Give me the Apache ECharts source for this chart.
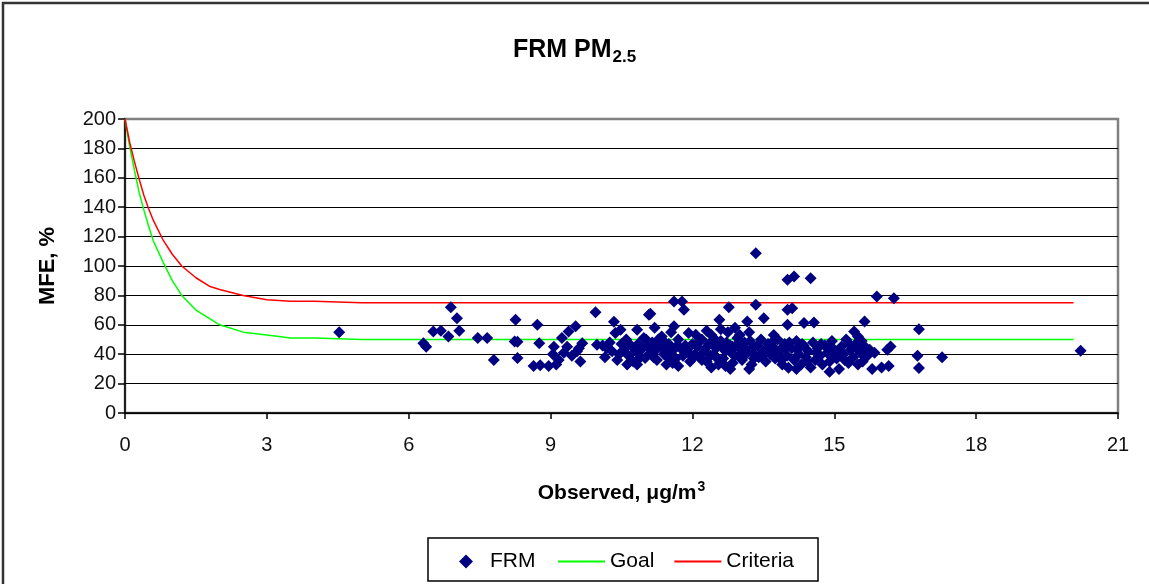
<!DOCTYPE html>
<html>
<head>
<meta charset="utf-8">
<script src="https://cdn.jsdelivr.net/npm/echarts@6/dist/echarts.min.js"></script>
<style>
html,body{margin:0;padding:0;background:#fff;}
#chart{width:1149px;height:584px;}
</style>
</head>
<body>
<div id="chart"></div>
<script>
// ---- Data ----
const xTicks = [0, 3, 6, 9, 12, 15, 18, 21];
const yTicks = [0, 20, 40, 60, 80, 100, 120, 140, 160, 180, 200];

// FRM observations: [Observed (ug/m3), MFE (%)]
const frmPoints = [
  [4.53,55],[6.31,47.5],[6.37,45],[6.52,55.5],[6.68,56],[6.84,52],[6.89,72],[7.02,64.5],[7.07,56],
  [7.46,51],[7.66,51],[7.80,36],[8.26,63.4],[8.24,48.7],[8.30,37.4],[8.30,48.5],[8.72,60],[8.76,47.5],
  [8.64,32],[8.78,32.5],[8.96,32],[9.07,45],[9.24,51],[9.38,55.5],[9.53,59],[9.17,36],[9.28,41],
  [9.56,42],[9.60,44],[9.67,47.5],[9.63,35],[9.95,68.6],[9.98,46.4],[9.45,39],[9.12,33],[9.35,45],[9.05,40],
  [10.19,44],[10.34,62],[10.37,54.4],[10.48,56.6],[10.41,36],[10.55,43],[10.62,33],[10.83,56.6],[10.80,42],
  [10.83,33],[10.97,51],[11.08,66.8],[11.00,37.4],[10.25,48],[10.45,40],[10.70,46],[10.90,38],[10.60,50],
  [10.15,38],[10.30,42],[10.75,35],[10.95,44],[10.50,47],[10.10,46],
  [11.11,67.5],[11.20,58],[11.15,48],[11.20,42],[11.25,36],[11.30,45],[11.35,52],[11.40,40],[11.45,33],
  [11.50,47],[11.55,55],[11.61,59],[11.61,75.8],[11.78,75.8],[11.82,70.2],[11.60,43],[11.65,37],[11.70,50],
  [11.75,44],[11.80,39],[11.85,46],[11.92,54.4],[11.92,41],[11.95,35],[12.07,53.2],[12.00,47],[12.05,40],
  [11.28,50],[11.38,44],[11.48,38],[11.12,41],[11.05,45],[11.18,38],[11.58,34],[11.70,32],
  [12.10,45],[12.15,38],[12.20,50],[12.25,42],[12.30,35],[12.35,47],[12.40,53],[12.45,40],[12.50,44],
  [12.55,33],[12.57,63.4],[12.60,49],[12.65,37],[12.70,42],[12.75,55],[12.77,72],[12.80,46],[12.85,34],
  [12.90,39],[12.95,51],[13.00,44],[13.05,36],[13.10,48],[13.15,41],[13.16,62.2],[13.20,55],[13.25,33],
  [13.30,45],[13.34,73.6],[13.34,108.7],[13.40,38],[13.45,50],[13.51,64.5],[13.50,42],[13.55,35],[13.60,47],
  [12.20,36],[12.40,31],[12.60,57],[12.80,30],[13.00,53],[13.20,30],[12.90,58],[12.30,56],[12.50,38],
  [12.70,32],[13.10,39],[13.30,37],[12.45,47],[12.85,45],
  [13.65,40],[13.70,45],[13.75,37],[13.80,50],[13.85,42],[13.90,33],[13.95,47],[14.00,39],[14.03,30.8],
  [14.01,60],[14.01,70.2],[14.11,71.3],[14.01,90.6],[14.15,92.8],[14.50,91.7],[13.72,53],[13.88,36],[13.98,44],
  [14.10,44],[14.15,36],[14.20,49],[14.25,40],[14.30,33],[14.36,61.2],[14.35,46],[14.40,38],[14.45,42],
  [14.50,31],[14.55,48],[14.57,61.6],[14.60,36],[14.65,44],[14.70,39],[14.75,33],[14.80,46],[14.85,41],
  [14.90,35],[14.95,49],[15.00,43],[15.05,37],[15.10,30],[15.15,45],[15.20,40],[15.25,50],[15.30,34],
  [15.35,43],[15.42,55.5],[15.40,38],[15.45,47],[15.50,52],[15.55,41],[15.60,35],[15.64,62.3],[15.65,45],
  [15.70,39],[15.80,30],[15.90,79.2],[15.85,41],[16.00,31],[16.15,32],[16.12,43],[16.19,45.3],[16.26,78.1],
  [16.79,57],[16.76,38.9],[16.79,30.6],[17.28,38],[20.21,42.3],[15.50,33],[14.20,30],[14.90,28],
  [10.65,39],[10.85,47],[11.02,50],[11.22,45],[11.42,48],[11.52,41],[11.68,46],[11.88,43],[12.02,38],
  [12.12,48],[12.28,44],[12.38,39],[12.48,50],[12.62,45],[12.72,48],[12.82,41],[12.92,46],[13.02,40],
  [13.12,44],[13.22,49],[13.28,41],[13.38,46],[13.48,39],[13.58,43],[13.68,48],[13.78,41],[13.92,45],
  [14.05,48],[14.22,43],[14.32,47],[14.42,35],[14.62,41],[14.72,47],[14.88,44],[15.02,39],[15.12,42],
  [15.22,36],[15.32,47],[15.48,44],[15.58,49],[15.75,43]
];

// Performance goal and criteria curves
const curveX     = [0, 0.1, 0.2, 0.3, 0.4, 0.5, 0.6, 0.8, 1.0, 1.2, 1.5, 1.8, 2.0, 2.5, 3.0, 3.5, 4.0, 5.0, 20.06];
const goalMFE    = [200, 181, 165, 150, 138, 127, 117, 103, 90, 80, 70, 64, 60, 55, 53, 51, 51, 50, 50];
const criteriaMFE= [200, 184, 171, 159, 148, 139, 131, 118, 108, 100, 92, 86, 84, 80, 77, 76, 76, 75, 75];

const goalData = curveX.map((x, i) => [x, goalMFE[i]]);
const criteriaData = curveX.map((x, i) => [x, criteriaMFE[i]]);

const FONT = 'Liberation Sans, Arial, sans-serif';
const chart = echarts.init(document.getElementById('chart'), null, {renderer: 'canvas'});

// split line colours: top line (200) left to the grey plot border
const splitColors = yTicks.map(v => (v === 200 ? 'rgba(0,0,0,0)' : '#000'));

chart.setOption({
  backgroundColor: '#fff',
  animation: false,
  textStyle: {fontFamily: FONT},
  title: {
    text: '{a|FRM PM}{b|2.5}',
    left: 'center',
    top: 30,
    textStyle: {
      rich: {
        a: {fontFamily: FONT, fontSize: 25, fontWeight: 'bold', color: '#000', lineHeight: 30},
        b: {fontFamily: FONT, fontSize: 17, fontWeight: 'bold', color: '#000', lineHeight: 30, padding: [14, 0, 0, 1]}
      }
    }
  },
  grid: {
    left: 125, right: 31, top: 119, bottom: 171,
    show: true, borderColor: '#808080', borderWidth: 2.5, backgroundColor: '#fff'
  },
  xAxis: {
    type: 'value', min: 0, max: 21, interval: 3,
    name: '{a|Observed, μg/m}{s|3}',
    nameLocation: 'middle', nameGap: 67,
    nameTextStyle: {
      rich: {
        a: {fontFamily: FONT, fontSize: 21, fontWeight: 'bold', color: '#000', lineHeight: 26},
        s: {fontFamily: FONT, fontSize: 14, fontWeight: 'bold', color: '#000', lineHeight: 26, padding: [0, 0, 12, 1]}
      }
    },
    axisLine: {show: true, onZero: false, lineStyle: {color: '#000', width: 1.5}},
    axisTick: {show: true, inside: false, length: 6, lineStyle: {color: '#000', width: 1.5}},
    axisLabel: {
      margin: 22, fontSize: 20, color: '#111', fontFamily: FONT,
      formatter: v => (xTicks.indexOf(v) >= 0 ? String(v) : '')
    },
    splitLine: {show: false}
  },
  yAxis: {
    type: 'value', min: 0, max: 200, interval: 20,
    name: 'MFE, %', nameLocation: 'middle', nameGap: 66, nameRotate: 90,
    nameTextStyle: {fontFamily: FONT, fontSize: 22, fontWeight: 'bold', color: '#000'},
    axisLine: {show: true, onZero: false, lineStyle: {color: '#000', width: 1.5}},
    axisTick: {show: true, inside: false, length: 7, lineStyle: {color: '#000', width: 1.5}},
    axisLabel: {
      margin: 9, fontSize: 20, color: '#111', fontFamily: FONT,
      formatter: v => (yTicks.indexOf(v) >= 0 ? String(v) : '')
    },
    splitLine: {show: true, lineStyle: {color: splitColors, width: 1.2}}
  },
  legend: [
    {
      data: [{name: 'FRM', icon: 'diamond'}],
      left: 454, top: 546,
      itemWidth: 14, itemHeight: 14,
      textStyle: {fontFamily: FONT, fontSize: 21, color: '#000', padding: [0, 0, 0, 12]}
    },
    {
      data: [{name: 'Goal', icon: 'rect'}, {name: 'Criteria', icon: 'rect'}],
      left: 553, top: 546,
      itemWidth: 47, itemHeight: 2, itemGap: 20,
      textStyle: {fontFamily: FONT, fontSize: 21, color: '#000'}
    }
  ],
  graphic: [
    {type: 'rect', silent: true, z: 100, shape: {x: 3, y: 3, width: 1300, height: 800},
     style: {fill: null, stroke: '#333', lineWidth: 2.5}},
    {type: 'rect', silent: true, z: 100, shape: {x: 428, y: 538, width: 390, height: 43},
     style: {fill: null, stroke: '#000', lineWidth: 1.5}}
  ],
  series: [
    {
      name: 'FRM', type: 'scatter', data: frmPoints,
      symbol: 'diamond', symbolSize: 12,
      itemStyle: {color: '#000080', opacity: 1}, z: 3
    },
    {
      name: 'Goal', type: 'line', data: goalData,
      symbol: 'none', smooth: false,
      lineStyle: {color: '#00ff00', width: 1.5}, itemStyle: {color: '#00ff00'}, z: 2
    },
    {
      name: 'Criteria', type: 'line', data: criteriaData,
      symbol: 'none', smooth: false,
      lineStyle: {color: '#ff0000', width: 1.5}, itemStyle: {color: '#ff0000'}, z: 2
    }
  ]
});
</script>
</body>
</html>
